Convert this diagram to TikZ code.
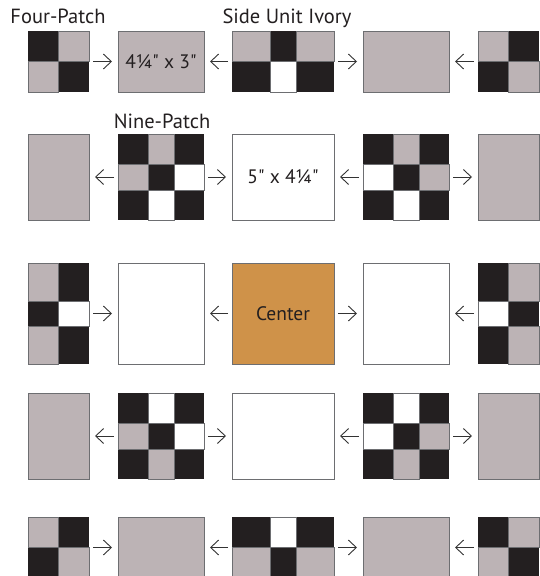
\documentclass[tikz,border=0pt]{standalone}
\usepackage{fontspec}
\setmainfont{PT Sans}[Ligatures=TeXOff]
\usetikzlibrary{arrows.meta}
\definecolor{pdark}{HTML}{231F20}
\definecolor{pgray}{HTML}{BCB3B5}
\definecolor{porange}{HTML}{CF9249}
\definecolor{pedge}{HTML}{6D6E71}
\definecolor{parrow}{HTML}{333333}
\begin{document}
\begin{tikzpicture}[x=1pt,y=-1pt,
  box/.style={rectangle,draw=pedge,line width=0.8pt,inner sep=0pt,outer sep=0pt,
    font=\fontsize{19.5}{21}\selectfont,text=pdark},
  patch/.style={rectangle,fill=pdark,inner sep=0pt,outer sep=0pt},
  wA/.style={minimum width=61pt}, wB/.style={minimum width=86pt}, wC/.style={minimum width=102pt},
  hA/.style={minimum height=61pt}, hB/.style={minimum height=86pt}, hC/.style={minimum height=101pt},
  gc/.style={fill=pgray,draw=pedge,line width=0.6pt},
  wc/.style={fill=white,draw=pedge,line width=0.6pt},
  conn/.style={draw=parrow,line width=0.9pt,-{Straight Barb[length=8pt,width=15pt,line width=0.9pt]},
    shorten <=4pt,shorten >=6pt},
  lbl/.style={font=\fontsize{20.5}{22}\selectfont,text=pdark,anchor=base,inner sep=0pt}]
\useasboundingbox (0,0) rectangle (540,576);
\clip (0,0) rectangle (540,576);

% ---------- Row 1 ----------
\node[patch,wA,hA] (r1c1) at (58.5,61.5) {};
\path[gc] (58.5,31) rectangle (89,61.5);
\path[gc] (28,61.5) rectangle (58.5,92);
\node[box,wB,hA,fill=pgray] (r1c2) at (161,61.5) {4¼" x 3"};
\node[patch,wC,hA] (r1c3) at (283,61.5) {};
\path[gc] (232,31) rectangle (270,61.5);
\path[gc] (296,31) rectangle (334,61.5);
\path[wc] (270,61.5) rectangle (296,92);
\node[box,wB,hA,fill=pgray] (r1c4) at (406,61.5) {};
\node[patch,wA,hA] (r1c5) at (508.5,61.5) {};
\path[gc] (478,31) rectangle (508.5,61.5);
\path[gc] (508.5,61.5) rectangle (539,92);

% ---------- Row 2 ----------
\node[box,wA,hB,fill=pgray] (r2c1) at (58.5,177) {};
\node[patch,wB,hB] (r2c2) at (161,177) {};
\path[gc] (148,134) rectangle (174,164);
\path[gc] (118,164) rectangle (148,190);
\path[wc] (174,164) rectangle (204,190);
\path[wc] (148,190) rectangle (174,220);
\node[box,wC,hB,fill=white] (r2c3) at (283,177) {5" x 4¼"};
\node[patch,wB,hB] (r2c4) at (406,177) {};
\path[gc] (393,134) rectangle (419,164);
\path[wc] (363,164) rectangle (393,190);
\path[gc] (419,164) rectangle (449,190);
\path[wc] (393,190) rectangle (419,220);
\node[box,wA,hB,fill=pgray] (r2c5) at (508.5,177) {};

% ---------- Row 3 ----------
\node[patch,wA,hC] (r3c1) at (58.5,313.5) {};
\path[gc] (28,263) rectangle (58.5,301);
\path[wc] (58.5,301) rectangle (89,326);
\path[gc] (28,326) rectangle (58.5,364);
\node[box,wB,hC,fill=white] (r3c2) at (161,313.5) {};
\node[box,wC,hC,fill=porange] (r3c3) at (283,313.5) {Center};
\node[box,wB,hC,fill=white] (r3c4) at (406,313.5) {};
\node[patch,wA,hC] (r3c5) at (508.5,313.5) {};
\path[gc] (508.5,263) rectangle (539,301);
\path[wc] (478,301) rectangle (508.5,326);
\path[gc] (508.5,326) rectangle (539,364);

% ---------- Row 4 ----------
\node[box,wA,hB,fill=pgray] (r4c1) at (58.5,436) {};
\node[patch,wB,hB] (r4c2) at (161,436) {};
\path[wc] (148,393) rectangle (174,423);
\path[gc] (118,423) rectangle (148,449);
\path[wc] (174,423) rectangle (204,449);
\path[gc] (148,449) rectangle (174,479);
\node[box,wC,hB,fill=white] (r4c3) at (283,436) {};
\node[patch,wB,hB] (r4c4) at (406,436) {};
\path[wc] (393,393) rectangle (419,423);
\path[wc] (363,423) rectangle (393,449);
\path[gc] (419,423) rectangle (449,449);
\path[gc] (393,449) rectangle (419,479);
\node[box,wA,hB,fill=pgray] (r4c5) at (508.5,436) {};

% ---------- Row 5 ----------
\node[patch,wA,hA] (r5c1) at (58.5,547.5) {};
\path[gc] (28,517) rectangle (58.5,547.5);
\path[gc] (58.5,547.5) rectangle (89,578);
\node[box,wB,hA,fill=pgray] (r5c2) at (161,547.5) {};
\node[patch,wC,hA] (r5c3) at (283,547.5) {};
\path[wc] (270,517) rectangle (296,547.5);
\path[gc] (232,547.5) rectangle (270,578);
\path[gc] (296,547.5) rectangle (334,578);
\node[box,wB,hA,fill=pgray] (r5c4) at (406,547.5) {};
\node[patch,wA,hA] (r5c5) at (508.5,547.5) {};
\path[gc] (508.5,517) rectangle (539,547.5);
\path[gc] (478,547.5) rectangle (508.5,578);

% ---------- Labels ----------
\node[lbl] (lfour) at (58,23) {Four-Patch};
\node[lbl] (lside) at (287,23) {Side Unit Ivory};
\node[lbl] (lnine) at (162,128) {Nine-Patch};

% ---------- Connectors ----------
\draw[conn] (r1c1) -- (r1c2);
\draw[conn] (r1c3) -- (r1c2);
\draw[conn] (r1c3) -- (r1c4);
\draw[conn] (r1c5) -- (r1c4);

\draw[conn] (r2c2) -- (r2c1);
\draw[conn] (r2c2) -- (r2c3);
\draw[conn] (r2c4) -- (r2c3);
\draw[conn] (r2c4) -- (r2c5);

\draw[conn] (r3c1) -- (r3c2);
\draw[conn] (r3c3) -- (r3c2);
\draw[conn] (r3c3) -- (r3c4);
\draw[conn] (r3c5) -- (r3c4);

\draw[conn] (r4c2) -- (r4c1);
\draw[conn] (r4c2) -- (r4c3);
\draw[conn] (r4c4) -- (r4c3);
\draw[conn] (r4c4) -- (r4c5);

\draw[conn] (r5c1) -- (r5c2);
\draw[conn] (r5c3) -- (r5c2);
\draw[conn] (r5c3) -- (r5c4);
\draw[conn] (r5c5) -- (r5c4);
\end{tikzpicture}
\end{document}
